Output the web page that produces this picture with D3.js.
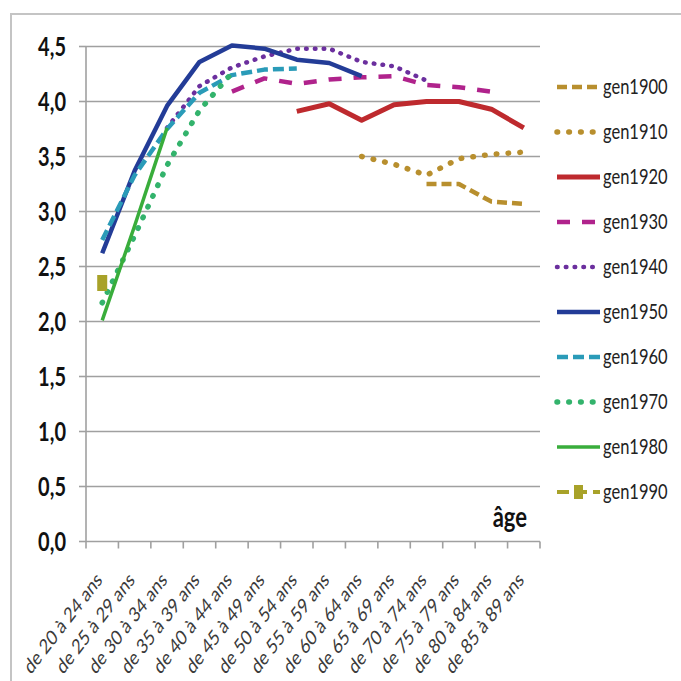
<!DOCTYPE html>
<html>
<head>
<meta charset="utf-8">
<script src="https://cdn.jsdelivr.net/npm/d3@7"></script>
<style>
  html, body { margin: 0; padding: 0; background: #fff; }
  svg { display: block; }
  text { font-family: Lato, "Open Sans", sans-serif; }
</style>
</head>
<body>
<svg id="chart" width="681" height="681"></svg>
<script>
// Age groups on the x axis
const categories = [
  "de 20 à 24 ans", "de 25 à 29 ans", "de 30 à 34 ans", "de 35 à 39 ans",
  "de 40 à 44 ans", "de 45 à 49 ans", "de 50 à 54 ans", "de 55 à 59 ans",
  "de 60 à 64 ans", "de 65 à 69 ans", "de 70 à 74 ans", "de 75 à 79 ans",
  "de 80 à 84 ans", "de 85 à 89 ans"
];

// One value per age group for each generation (null = not observed)
const gen1900 = [null, null, null, null, null, null, null, null, null, null, 3.25, 3.25, 3.09, 3.07];
const gen1910 = [null, null, null, null, null, null, null, null, 3.50, 3.43, 3.33, 3.48, 3.52, 3.54];
const gen1920 = [null, null, null, null, null, null, 3.91, 3.98, 3.83, 3.97, 4.00, 4.00, 3.93, 3.76];
const gen1930 = [null, null, null, null, 4.09, 4.21, 4.16, 4.20, 4.22, 4.23, 4.15, 4.13, 4.09, null];
const gen1940 = [null, null, 3.76, 4.14, 4.31, 4.41, 4.48, 4.48, 4.36, 4.32, 4.19, null, null, null];
const gen1950 = [2.62, 3.37, 3.96, 4.36, 4.51, 4.48, 4.38, 4.35, 4.23, null, null, null, null, null];
const gen1960 = [2.74, 3.33, 3.75, 4.08, 4.24, 4.29, 4.30, null, null, null, null, null, null, null];
const gen1970 = [2.17, 2.78, 3.42, 3.92, 4.26, null, null, null, null, null, null, null, null, null];
const gen1980 = [2.01, 2.87, 3.76, null, null, null, null, null, null, null, null, null, null, null];
const gen1990 = [2.35, null, null, null, null, null, null, null, null, null, null, null, null, null];

const seriesNames = ["gen1900", "gen1910", "gen1920", "gen1930", "gen1940",
                     "gen1950", "gen1960", "gen1970", "gen1980", "gen1990"];
const seriesValues = [gen1900, gen1910, gen1920, gen1930, gen1940,
                      gen1950, gen1960, gen1970, gen1980, gen1990];

// Y axis ticks
const yTicks = [0, 0.5, 1, 1.5, 2, 2.5, 3, 3.5, 4, 4.5];

// Drawing styles per series
const styles = {
  gen1900: { color: "#B88F2E", width: 4.5, dash: "10,5",     cap: "butt" },
  gen1910: { color: "#B88F2E", width: 5.5, dash: "0.6,11.2", cap: "round" },
  gen1920: { color: "#BE2A2E", width: 5,   dash: null,       cap: "butt" },
  gen1930: { color: "#B0238C", width: 4.5, dash: "13,12",    cap: "butt" },
  gen1940: { color: "#6B2F9E", width: 4.5, dash: "0.6,8.2",  cap: "round" },
  gen1950: { color: "#233C97", width: 4.5, dash: null,       cap: "butt" },
  gen1960: { color: "#2A9BB8", width: 4.5, dash: "11,5",     cap: "butt" },
  gen1970: { color: "#33B36C", width: 5.5, dash: "0.6,11.2", cap: "round" },
  gen1980: { color: "#39AD3B", width: 3.5, dash: null,       cap: "butt" },
  gen1990: { color: "#A8A229", width: 4,   dash: "12,6",     cap: "butt", marker: true }
};

const TEXT_STRETCH = 1.3;
const svg = d3.select("#chart");

// Outer frame (top and left edges)
svg.append("path")
  .attr("d", "M11,681 L11,14 L681,14")
  .attr("fill", "none")
  .attr("stroke", "#C4C4C4")
  .attr("stroke-width", 2);

const plot = { left: 86, right: 540, top: 46.5, bottom: 541.5 };

const x = d3.scaleBand().domain(categories).range([plot.left, plot.right]).padding(0);
const y = d3.scaleLinear().domain([0, 4.5]).range([plot.bottom, plot.top]);
const cx = c => x(c) + x.bandwidth() / 2;

const frLocale = d3.formatLocale({ decimal: ",", thousands: " ", grouping: [3], currency: ["", " €"] });
const fmt = frLocale.format(".1f");

// Horizontal gridlines
svg.append("g").selectAll("line")
  .data(yTicks.filter(t => t > 0))
  .join("line")
  .attr("x1", plot.left).attr("x2", plot.right)
  .attr("y1", d => y(d)).attr("y2", d => y(d))
  .attr("stroke", "#A0A0A0").attr("stroke-width", 1.6);

// Y axis line, ticks and labels
const yAxis = svg.append("g");
yAxis.append("line")
  .attr("x1", plot.left).attr("x2", plot.left)
  .attr("y1", y(4.5)).attr("y2", y(0))
  .attr("stroke", "#A0A0A0").attr("stroke-width", 1.6);
yAxis.selectAll("line.tick")
  .data(yTicks)
  .join("line").attr("class", "tick")
  .attr("x1", plot.left - 7).attr("x2", plot.left)
  .attr("y1", d => y(d)).attr("y2", d => y(d))
  .attr("stroke", "#A0A0A0").attr("stroke-width", 1.6);
yAxis.selectAll("text")
  .data(yTicks)
  .join("text")
  .attr("transform", d => `translate(66,${y(d) + 9}) scale(1,${TEXT_STRETCH})`)
  .attr("text-anchor", "end")
  .attr("font-size", 20)
  .attr("font-weight", 700)
  .attr("fill", "#111")
  .text(d => fmt(d));

// X axis line, ticks between categories, and rotated labels
const xAxis = svg.append("g");
xAxis.append("line")
  .attr("x1", plot.left).attr("x2", plot.right)
  .attr("y1", y(0)).attr("y2", y(0))
  .attr("stroke", "#A0A0A0").attr("stroke-width", 1.6);
const boundaries = categories.map(c => x(c)).concat([x(categories[categories.length - 1]) + x.bandwidth()]);
xAxis.selectAll("line.tick")
  .data(boundaries)
  .join("line").attr("class", "tick")
  .attr("x1", d => d).attr("x2", d => d)
  .attr("y1", y(0)).attr("y2", y(0) + 7)
  .attr("stroke", "#A0A0A0").attr("stroke-width", 1.6);
xAxis.selectAll("text")
  .data(categories)
  .join("text")
  .attr("transform", d => `translate(${cx(d) + 1},581) scale(1,${TEXT_STRETCH}) rotate(-45)`)
  .attr("text-anchor", "end")
  .attr("font-size", 16)
  .attr("fill", "#3A3A3A")
  .text(d => d);

// Axis title
svg.append("text")
  .attr("transform", `translate(527,527) scale(1,${TEXT_STRETCH})`)
  .attr("text-anchor", "end")
  .attr("font-size", 22)
  .attr("font-weight", 700)
  .attr("fill", "#111")
  .text("âge");

// Series lines
const line = d3.line()
  .defined(d => d.v != null)
  .x(d => cx(d.c))
  .y(d => y(d.v));

const series = seriesNames.map((name, k) => ({
  name,
  points: categories.map((c, i) => ({ c, v: seriesValues[k][i] }))
}));

const lines = svg.append("g");
series.forEach(s => {
  const st = styles[s.name];
  const valid = s.points.filter(p => p.v != null);
  if (valid.length > 1) {
    lines.append("path")
      .attr("d", line(s.points))
      .attr("fill", "none")
      .attr("stroke", st.color)
      .attr("stroke-width", st.width)
      .attr("stroke-linecap", st.cap)
      .attr("stroke-linejoin", "round")
      .attr("stroke-dasharray", st.dash);
  }
  if (st.marker) {
    lines.selectAll(null)
      .data(valid)
      .join("rect")
      .attr("x", d => cx(d.c) - 5)
      .attr("y", d => y(d.v) - 8)
      .attr("width", 10).attr("height", 16)
      .attr("fill", st.color);
  }
});

// Legend
const legend = svg.append("g");
const legendY = d3.scaleLinear().domain([0, seriesNames.length - 1]).range([87, 492]);
seriesNames.forEach((name, i) => {
  const st = styles[name];
  const ly = legendY(i);
  legend.append("line")
    .attr("x1", 557).attr("x2", 600)
    .attr("y1", ly).attr("y2", ly)
    .attr("stroke", st.color)
    .attr("stroke-width", st.width)
    .attr("stroke-linecap", st.cap)
    .attr("stroke-dasharray", st.dash);
  if (st.marker) {
    legend.append("rect")
      .attr("x", 574).attr("y", ly - 7)
      .attr("width", 9).attr("height", 14)
      .attr("fill", st.color);
  }
  legend.append("text")
    .attr("transform", `translate(603,${ly + 7}) scale(1,${TEXT_STRETCH})`)
    .attr("font-size", 16.5)
    .attr("fill", "#222")
    .text(name);
});
</script>
</body>
</html>
